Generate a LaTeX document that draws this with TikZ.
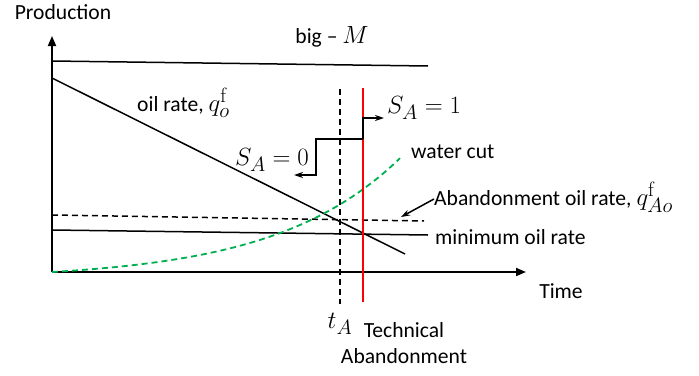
\documentclass[tikz,border=0pt]{standalone}
\usepackage[no-math]{fontspec}
\setmainfont{Carlito}
\usetikzlibrary{arrows.meta}
\newcommand{\mth}[1]{{\fontsize{28}{30}\selectfont$#1$}}
\begin{document}
\begin{tikzpicture}[x=1pt,y=-1pt,
  lbl/.style={font=\fontsize{21.6}{25}\selectfont, inner sep=0pt},
  axis/.style={line width=1.8pt,-{Triangle[length=10pt,width=8pt]}},
  thin/.style={line width=1.5pt},
  arr/.style={line width=1.5pt,-{Stealth[length=9pt,width=6pt]}}]
\useasboundingbox (0,0) rectangle (699,375);
% axes
\coordinate (O) at (52,272);
\coordinate (Ytip) at (52,36);
\coordinate (Xtip) at (526,272);
\draw[axis] (O) -- (Ytip);
\draw[axis] (O) -- (Xtip);
\node[lbl] (prod) at (63,12) {Production};
\node[lbl] (time) at (561,291) {Time};
% big-M
\coordinate (bm1) at (52,61);
\coordinate (bm2) at (428,66);
\draw[thin] (bm1) -- (bm2);
\node[lbl] (bigM) at (332,37) {big -- \mth{M}};
% oil rate
\coordinate (or1) at (52,78);
\coordinate (or2) at (405,254);
\draw[thin] (or1) -- (or2);
\node[lbl,anchor=west] (oilrate) at (137,103) {oil rate, \mth{q_o^{\mathrm{f}}}};
% abandonment oil rate dashed
\coordinate (ab1) at (52,215);
\coordinate (ab2) at (424,221);
\draw[thin,dash pattern=on 6pt off 4pt] (ab1) -- (ab2);
\node[lbl,anchor=west] (abl) at (434,197) {Abandonment oil rate, \mth{q_{Ao}^{\mathrm{f}}}};
\coordinate (abarrS) at (434,199);
\coordinate (abarrE) at (401,217);
\draw[arr] (abarrS) -- (abarrE);
% minimum oil rate
\coordinate (mo1) at (52,230);
\coordinate (mo2) at (428,235);
\draw[thin] (mo1) -- (mo2);
\node[lbl,anchor=west] (mol) at (435,237) {minimum oil rate};
% water cut
\draw[line width=1.8pt,dash pattern=on 6pt off 4pt,color={rgb,255:red,0;green,176;blue,80}]
  plot[domain=0:348,samples=80,smooth] ({52+\x},{272-7.51*(exp(0.008*\x)-1)});
\node[lbl,anchor=west] (wc) at (411,152) {water cut};
% vertical lines
\coordinate (tA1) at (340,89);
\coordinate (tA2) at (340,304);
\draw[thin,dash pattern=on 6pt off 4pt] (tA1) -- (tA2);
\coordinate (ta1) at (363,88);
\coordinate (ta2) at (363,302);
\draw[line width=1.8pt,red] (ta1) -- (ta2);
\node[lbl] (tAl) at (340,324) {\mth{t_A}};
\node[lbl,align=center] (techl) at (404,343) {Technical\\[1pt]Abandonment};
% step arrows
\coordinate (sp) at (363,139);
\coordinate (s1a) at (363,118);
\coordinate (s1e) at (384,118);
\coordinate (s0a) at (316,139);
\coordinate (s0b) at (316,175);
\coordinate (s0e) at (294,175);
\draw[arr] (sp) -- (s1a) -- (s1e);
\draw[arr] (sp) -- (s0a) -- (s0b) -- (s0e);
\node[lbl,anchor=west] (s1l) at (387,108) {\mth{S_A=1}};
\node[lbl] (s0l) at (272,160) {\mth{S_A=0}};
\end{tikzpicture}
\end{document}
